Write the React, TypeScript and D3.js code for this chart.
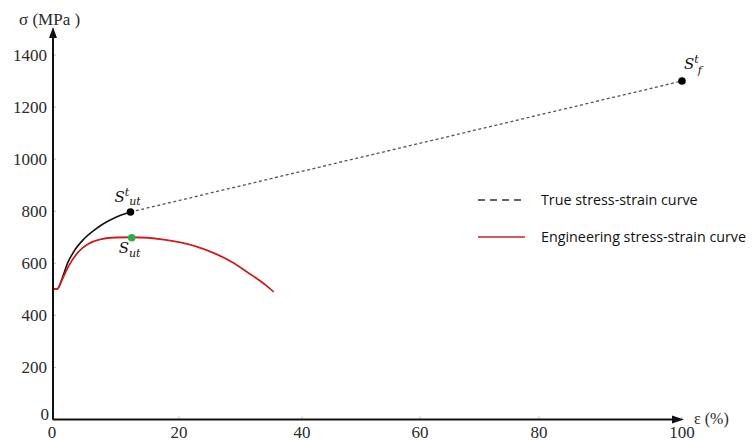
import React from "react";
import * as d3 from "d3";

// ---- data (strain %, stress MPa) ----
const trueCurve: [number, number][] = [
  [0, 0], [0, 500], [0.7, 502], [1.5, 545], [2.3, 600], [3.3, 645], [4.9, 693],
  [6.6, 728], [8, 752], [10, 777], [12.3, 797],
];
const engCurve: [number, number][] = [
  [0, 0], [0, 500], [0.7, 502], [1.5, 540], [2.5, 590], [4, 643], [5.5, 673],
  [7.5, 692], [10, 699], [12.5, 700], [15, 698], [17.6, 691], [20.4, 679],
  [23.1, 662], [25.8, 638], [28.6, 605], [31.3, 563], [34.1, 516], [35.4, 490],
];
const trueExtension: [number, number][] = [[12.3, 797], [100, 1300]];
const sutTrue: [number, number] = [12.3, 797];
const sut: [number, number] = [12.5, 698];
const sfTrue: [number, number] = [100, 1300];
const xTicks = [0, 20, 40, 60, 80, 100];
const yTicks = [0, 200, 400, 600, 800, 1000, 1200, 1400];
const legendLabels = ["True stress-strain curve", "Engineering stress-strain curve"];

export default function App() {
  const W = 753, H = 441;
  const x = d3.scaleLinear().domain([0, 20, 40, 60, 80, 100]).range([53, 179, 302, 420, 539, 682]);
  const y = d3.scaleLinear().domain([0, 1400]).range([419.5, 55]);
  const lineStraight = d3.line<[number, number]>().x(d => x(d[0])).y(d => y(d[1]));
  const smooth = d3.line<[number, number]>().x(d => x(d[0])).y(d => y(d[1])).curve(d3.curveMonotoneX);
  const pathFor = (pts: [number, number][]) => {
    const rest = smooth(pts.slice(1)) as string;
    return `M${x(pts[0][0])},${y(pts[0][1])}` + rest.replace(/^M/, "L");
  };
  const serif = "Liberation Serif";
  const math = "DejaVu Serif";
  const sans = "Open Sans";
  const x0 = x(0), y0 = y(0);
  return (
    <svg width={W} height={H} style={{ position: "absolute", left: 0, top: 0, background: "#fff" }}>
      {yTicks.map(t => (
        <line key={"yt" + t} x1={x0} x2={x0 + 3} y1={y(t)} y2={y(t)} stroke="#bbb" strokeWidth={1} />
      ))}
      {xTicks.map(t => (
        <line key={"xt" + t} x1={x(t)} x2={x(t)} y1={y0} y2={y0 - 3} stroke="#bbb" strokeWidth={1} />
      ))}
      {yTicks.map(t => (
        <text key={"yl" + t} x={t === 0 ? 49 : 47} y={t === 0 ? y(t) - 5 : y(t)} dy="0.35em" textAnchor="end"
          fontFamily={serif} fontSize={17} fill="#2a2a2a">{t}</text>
      ))}
      {xTicks.map(t => (
        <text key={"xl" + t} x={x(t) + (t === 0 ? -1 : 0)} y={438} textAnchor="middle"
          fontFamily={serif} fontSize={17} fill="#2a2a2a">{t}</text>
      ))}
      <path d={lineStraight(trueExtension) as string} fill="none" stroke="#555" strokeWidth={1.3} strokeDasharray="3,2.5" />
      <path d={pathFor(trueCurve)} fill="none" stroke="#111" strokeWidth={1.6} />
      <path d={pathFor(engCurve)} fill="none" stroke="#cc1f1f" strokeWidth={1.8} />
      <line x1={x0} x2={x0} y1={y0} y2={34} stroke="#111" strokeWidth={2} />
      <path d={`M${x0},27 L${x0 - 4},38 L${x0 + 4},38 Z`} fill="#111" />
      <line x1={x0} x2={676} y1={y0} y2={y0} stroke="#111" strokeWidth={2} />
      <path d={`M684,${y0} L672,${y0 - 4} L672,${y0 + 4} Z`} fill="#111" />
      <text x={19} y={25} fontFamily={serif} fontSize={17} fill="#2a2a2a">σ (MPa )</text>
      <text x={694} y={424} fontFamily={serif} fontSize={16} fill="#2a2a2a">ε (%)</text>
      <circle cx={x(sutTrue[0])} cy={y(sutTrue[1])} r={3.8} fill="#000" />
      <circle cx={x(sut[0])} cy={y(sut[1])} r={3.8} fill="#2bb040" />
      <circle cx={x(sfTrue[0])} cy={y(sfTrue[1])} r={3.8} fill="#000" />
      <text x={x(sutTrue[0]) - 16} y={y(sutTrue[1]) - 10} fontFamily={math} fontStyle="italic" fontSize={15} fill="#111">
        S<tspan dy={-6} fontSize={11}>t</tspan><tspan dy={9} fontSize={11}>ut</tspan>
      </text>
      <text x={x(sut[0]) - 13} y={y(sut[1]) + 15} fontFamily={math} fontStyle="italic" fontSize={15} fill="#111">
        S<tspan dy={4} fontSize={11}>ut</tspan>
      </text>
      <text x={x(sfTrue[0]) + 2} y={y(sfTrue[1]) - 12} fontFamily={math} fontStyle="italic" fontSize={15} fill="#111">
        S<tspan dy={-6} fontSize={11}>t</tspan><tspan dy={11} dx={-1} fontSize={11}>f</tspan>
      </text>
      <line x1={478} x2={525} y1={200} y2={200} stroke="#333" strokeWidth={1.5} strokeDasharray="7,5" />
      <text x={541} y={200} dy="0.35em" fontFamily={sans} fontSize={14.3} fill="#111">{legendLabels[0]}</text>
      <line x1={478} x2={525} y1={237} y2={237} stroke="#cc1f1f" strokeWidth={1.5} />
      <text x={541} y={237} dy="0.35em" fontFamily={sans} fontSize={14.3} fill="#111">{legendLabels[1]}</text>
    </svg>
  );
}
